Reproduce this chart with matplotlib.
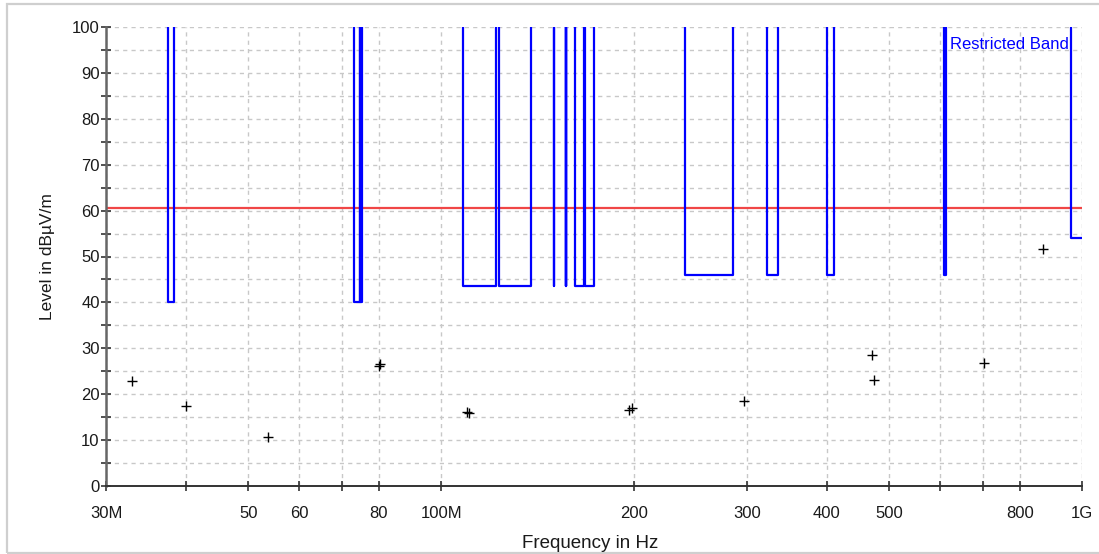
import numpy as np
import matplotlib
matplotlib.use("Agg")
import matplotlib.pyplot as plt
from matplotlib.patches import Rectangle
from matplotlib.ticker import FixedLocator, FixedFormatter, NullLocator

plt.rcParams['font.family'] = ['Liberation Sans', 'DejaVu Sans']

# restricted bands (MHz) and the level that applies inside each band
band_lo = [37.5, 73.0, 74.8, 108.0, 123.0, 149.9, 156.52475, 156.7, 162.0125, 167.72,
           240.0, 322.0, 399.9, 608.0, 960.0]
band_hi = [38.25, 74.6, 75.2, 121.94, 138.0, 150.05, 156.52525, 156.9, 167.17, 173.2,
           285.0, 335.4, 410.0, 614.0, 1240.0]
band_level = [40, 40, 40, 43.5, 43.5, 43.5, 43.5, 43.5, 43.5, 43.5,
              46, 46, 46, 46, 54]

limit_level = 60.5

# final measurement points
peak_freq = [32.9, 40.0, 53.6, 80.0, 80.2, 109.9, 110.5, 196.4, 198.2, 297.0,
             469.6, 473.5, 703.0, 868.8]
peak_level = [22.9, 17.4, 10.7, 26.2, 26.5, 16.2, 16.0, 16.5, 16.9, 18.5,
              28.6, 23.2, 26.7, 51.6]

tick_freq = [30, 40, 50, 60, 70, 80, 100, 200, 300, 400, 500, 600, 700, 800, 1000]
tick_text = ['30M', '', '50', '60', '', '80', '100M', '200', '300', '400', '500',
             '', '', '800', '1G']

# band outline: off-scale outside the bands, stepping down to the level inside
off = 200
bx, by = [30.0], [off]
for lo, hi, lv in zip(band_lo, band_hi, band_level):
    bx += [lo, lo, hi, hi]
    by += [off, lv, lv, off]
bx = np.array(bx) * 1e6
by = np.array(by)

fig = plt.figure(figsize=(10.99, 5.54), dpi=100)
fig.patches.append(Rectangle((7 / 1099, 1.5 / 554), 1.1, 1 - 5.5 / 554,
                             transform=fig.transFigure, fill=False,
                             edgecolor='#cfcfcf', lw=1.6, zorder=0))
ax = fig.add_axes([106 / 1099, 1 - 486 / 554, 976 / 1099, 459 / 554])

ax.set_xscale('log')
ax.set_xlim(30e6, 1e9)
ax.set_ylim(0, 100)

ax.plot(bx, by, color='#0000ff', lw=1.6, zorder=3)
ax.axhline(limit_level, color='#f04646', lw=1.6, zorder=2)
ax.plot(np.array(peak_freq) * 1e6, peak_level, ls='none', marker='+',
        color='black', ms=7, mew=1.0, zorder=4)

ax.xaxis.set_major_locator(FixedLocator(np.array(tick_freq) * 1e6))
ax.xaxis.set_major_formatter(FixedFormatter(tick_text))
ax.xaxis.set_minor_locator(NullLocator())
ax.set_yticks(np.arange(0, 101, 10))
ax.set_yticks(np.arange(5, 100, 10), minor=True)

ax.grid(True, which='both', axis='y', color='#c8c8c8', ls=(0, (3, 3)), lw=1.0)
ax.grid(True, which='major', axis='x', color='#c8c8c8', ls=(0, (3, 3)), lw=1.0)
ax.set_axisbelow(True)

for s in ['top', 'right']:
    ax.spines[s].set_visible(False)
ax.spines['left'].set_color('#666666')
ax.spines['left'].set_linewidth(1.8)
ax.spines['bottom'].set_color('#333333')
ax.spines['bottom'].set_linewidth(1.4)

ax.tick_params(axis='x', which='major', direction='inout', length=7, width=1.2,
               color='#333333', labelsize=12, pad=11, labelcolor='#1a1a1a')
ax.tick_params(axis='y', which='both', direction='inout', length=7, width=1.2,
               color='#333333', labelsize=12, pad=1, labelcolor='#1a1a1a')

ax.set_ylabel('Level in dBµV/m', fontsize=12.5, color='#1a1a1a', labelpad=12)
fig.text(590 / 1099, 1 - 544 / 554, 'Frequency in Hz', fontsize=13.5,
         color='#1a1a1a', ha='center', va='center')

ax.text(0.9867, 0.961, 'Restricted Band', transform=ax.transAxes, ha='right',
        va='center', color='#0000ff', fontsize=12)

fig.savefig('out.png', dpi=100)
